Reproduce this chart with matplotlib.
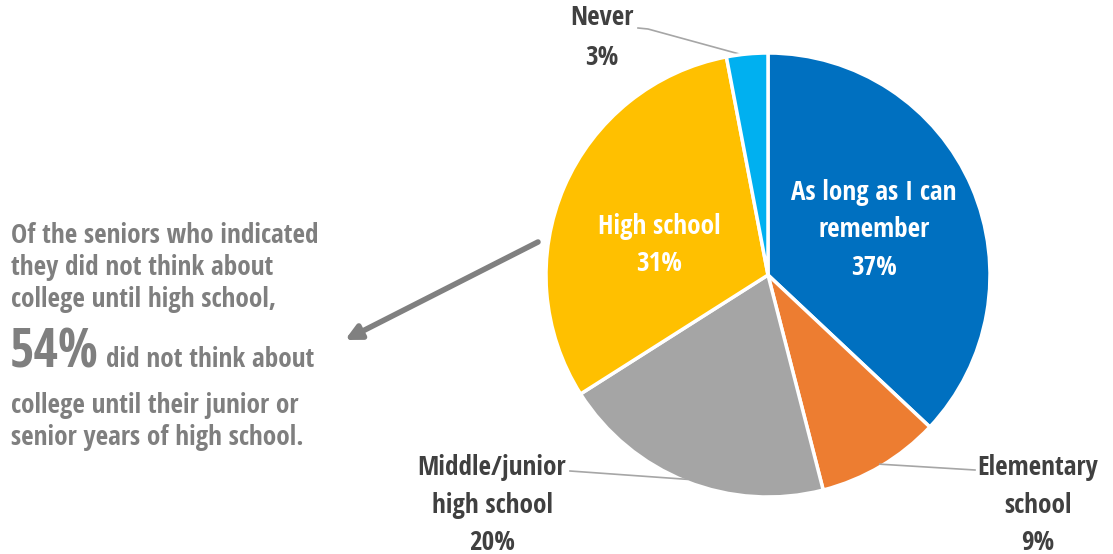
import matplotlib
matplotlib.use("Agg")
import matplotlib.pyplot as plt
from matplotlib import font_manager as fm
import numpy as np

# Survey data: when seniors first started thinking about college
categories = ["As long as I can\nremember", "Elementary\nschool", "Middle/junior\nhigh school",
              "High school", "Never"]
shares = [37, 9, 20, 31, 3]
colors = ["#0070C0", "#ED7D31", "#A5A5A5", "#FFC000", "#00B0F0"]

note_lines = ["Of the seniors who indicated", "they did not think about",
              "college until high school,"]
note_pct = "54%"
note_after = ["did not think about", "college until their junior or",
              "senior years of high school."]


def pick_font():
    """Prefer a bold condensed/narrow sans face if one is installed."""
    faces = fm.fontManager.ttflist
    prefs = ["Open Sans Condensed", "Open Sans", "Roboto Condensed", "Roboto",
             "Liberation Sans Narrow", "DejaVu Sans", "Noto Sans"]
    for name in prefs:
        for f in faces:
            if f.name == name and str(f.stretch) in ("condensed", "semi-condensed", "extra-condensed") \
                    and f.weight in ("bold", 700, 600, "semibold", "demibold"):
                return fm.FontProperties(fname=f.fname)
    for f in faces:
        if "Narrow" in f.name or "Condensed" in f.name:
            if f.weight in ("bold", 700):
                return fm.FontProperties(fname=f.fname)
    return fm.FontProperties(family="Open Sans", weight="bold")


fp = pick_font()
W, H = 1113, 554
fig = plt.figure(figsize=(W / 100, H / 100), dpi=100)
ax = fig.add_axes([0, 0, 1, 1])


def Y(y):
    return H - y


cx, cy, R = 768, Y(275), 222
wedges, _ = ax.pie(shares, colors=colors, startangle=90, counterclock=False,
                   center=(cx, cy), radius=R,
                   wedgeprops=dict(edgecolor="white", linewidth=2.5))
ax.set_xlim(0, W)
ax.set_ylim(0, H)
ax.set_aspect("equal")
ax.axis("off")


def mid_point(w, frac=0.99):
    a = np.deg2rad((w.theta1 + w.theta2) / 2)
    return cx + frac * R * np.cos(a), cy + frac * R * np.sin(a)


lbl_kw = dict(fontproperties=fp, size=19.5, ha="center", va="baseline")
dark = "#404040"

# labels inside the two big slices
ax.text(874, Y(200), "As long as I can", color="white", **lbl_kw)
ax.text(874, Y(237), "remember", color="white", **lbl_kw)
ax.text(874, Y(275), f"{shares[0]}%", color="white", **lbl_kw)
ax.text(659, Y(234), "High school", color="white", **lbl_kw)
ax.text(659, Y(271), f"{shares[3]}%", color="white", **lbl_kw)

# outside labels with leader lines
ax.text(602, Y(25), "Never", color=dark, **lbl_kw)
ax.text(602, Y(65), f"{shares[4]}%", color=dark, **lbl_kw)
ex, ey = mid_point(wedges[4])
ax.plot([638, 648, ex], [Y(28), Y(29), ey], color="#A6A6A6", lw=1.2, zorder=0.5)

ax.text(492, Y(475), "Middle/junior", color=dark, **lbl_kw)
ax.text(492, Y(513), "high school", color=dark, **lbl_kw)
ax.text(492, Y(550), f"{shares[2]}%", color=dark, **lbl_kw)
ex, ey = mid_point(wedges[2])
ax.plot([570, ex], [Y(471), ey], color="#A6A6A6", lw=1.2, zorder=3)

ax.text(1038, Y(475), "Elementary", color=dark, **lbl_kw)
ax.text(1038, Y(513), "school", color=dark, **lbl_kw)
ax.text(1038, Y(550), f"{shares[1]}%", color=dark, **lbl_kw)
ex, ey = mid_point(wedges[1])
ax.plot([ex, 975], [ey, Y(470)], color="#A6A6A6", lw=1.2, zorder=3)

# side note
note_col = "#7F7F7F"
nkw = dict(fontproperties=fp, size=19.5, color=note_col, ha="left", va="baseline")
for txt, yb in zip(note_lines, [243, 275, 307]):
    ax.text(11, Y(yb), txt, **nkw)
ax.text(10, Y(367), note_pct, fontproperties=fp, size=38, color=note_col,
        ha="left", va="baseline")
ax.text(106, Y(367), note_after[0], **nkw)
ax.text(11, Y(413), note_after[1], **nkw)
ax.text(11, Y(445), note_after[2], **nkw)

ax.annotate("", xy=(345, Y(340)), xytext=(538, Y(242)),
            arrowprops=dict(arrowstyle="-|>,head_length=0.9,head_width=0.45",
                            color="#808080", lw=4, shrinkA=0, shrinkB=0))

fig.savefig("out.png", dpi=100, facecolor="white")
